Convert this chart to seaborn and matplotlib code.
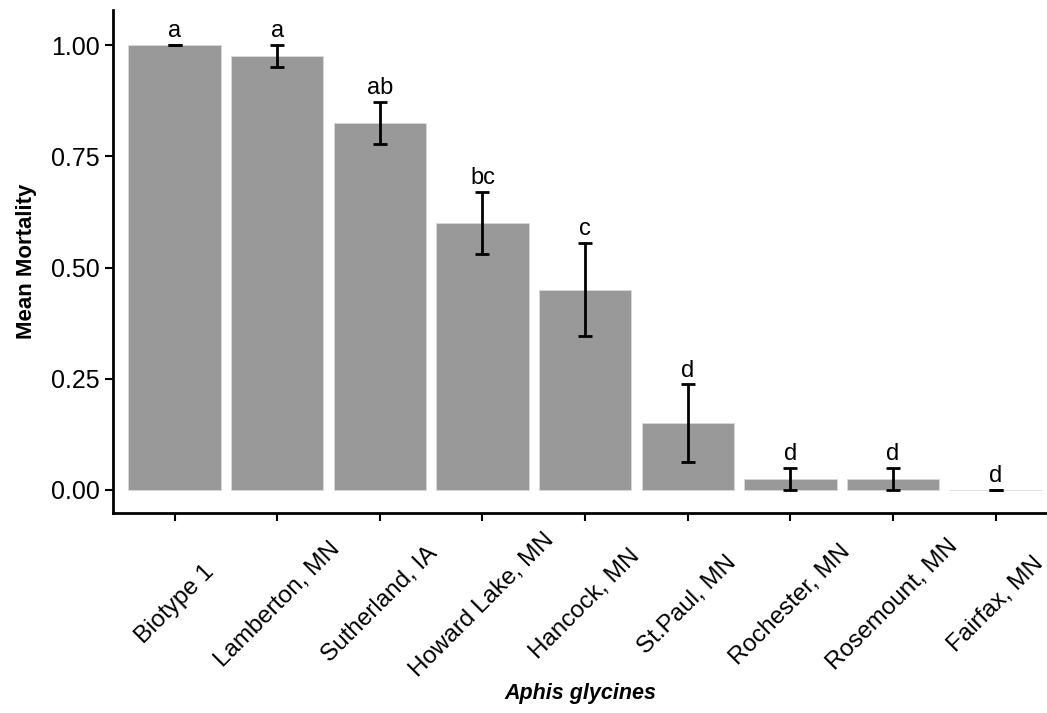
import numpy as np
import pandas as pd
import matplotlib
matplotlib.use("Agg")
import matplotlib.pyplot as plt
import seaborn as sns

populations = ["Biotype 1", "Lamberton, MN", "Sutherland, IA", "Howard Lake, MN",
               "Hancock, MN", "St.Paul, MN", "Rochester, MN", "Rosemount, MN", "Fairfax, MN"]
mortality = [1.0, 0.975, 0.825, 0.60, 0.45, 0.15, 0.025, 0.025, 0.0]
se = [0.0, 0.025, 0.048, 0.07, 0.105, 0.087, 0.025, 0.025, 0.0]
letters = ["a", "a", "ab", "bc", "c", "d", "d", "d", "d"]

df = pd.DataFrame({"pop": populations, "mort": mortality, "se": se})

sns.set_style("ticks")
plt.rcParams["font.family"] = ["Liberation Sans", "DejaVu Sans"]

fig = plt.figure(figsize=(10.47, 7.13), dpi=100)
ax = fig.add_axes([113 / 1047, 1 - 513 / 713, 1 - 113 / 1047, (513 - 10) / 713])

sns.barplot(data=df, x="pop", y="mort", color="#999999", saturation=1,
            width=0.9, edgecolor="#d9d9d9", linewidth=0.6, errorbar=None, ax=ax)

x = np.arange(len(populations))
lo = np.clip(df["mort"] - df["se"], 0, None)
hi = df["mort"] + df["se"]
ax.errorbar(x, df["mort"], yerr=[df["mort"] - lo, hi - df["mort"]], fmt="none",
            ecolor="black", elinewidth=2, capsize=5, capthick=2)

# significance letters
for i, lab in enumerate(letters):
    ax.text(x[i], hi[i] + 0.006, lab, ha="center", va="bottom", fontsize=17, color="black")

ax.set_xlim(-0.6, 8.5)
ax.set_ylim(-0.052, 1.079)
ax.set_yticks([0, 0.25, 0.5, 0.75, 1.0])
ax.set_yticklabels(["0.00", "0.25", "0.50", "0.75", "1.00"])
ax.tick_params(axis="y", labelsize=18, width=1.5, length=6, color="black", labelcolor="black")
ax.tick_params(axis="x", labelsize=17.5, width=1.5, length=6, color="black", labelcolor="black", pad=60)
plt.setp(ax.get_xticklabels(), rotation=45, ha="center", va="center", rotation_mode="anchor")

for s in ["top", "right"]:
    ax.spines[s].set_visible(False)
for s in ["left", "bottom"]:
    ax.spines[s].set_linewidth(2)
    ax.spines[s].set_color("black")

ax.set_ylabel("Mean Mortality", fontsize=16, fontweight="bold", labelpad=10, color="black")
ax.set_xlabel("Aphis glycines", fontsize=15.5, fontweight="bold", style="italic", color="black")
ax.xaxis.set_label_coords(0.5, -0.338)

fig.savefig("out.png", dpi=100)
